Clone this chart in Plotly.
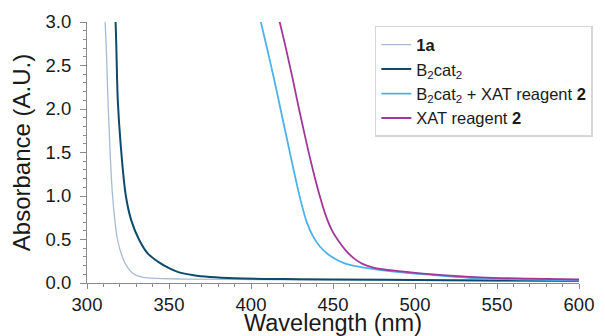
import plotly.graph_objects as go

# ---- data ----
wl_1a = [308, 311, 313, 315.6, 318.6, 321, 324, 328, 333, 340, 360, 400, 450, 500, 550, 600]
abs_1a = [3.6, 3.0, 2.0, 1.0, 0.5, 0.33, 0.2, 0.11, 0.07, 0.055, 0.045, 0.04, 0.035, 0.03, 0.025, 0.02]

wl_b2 = [316, 317.4, 318.8, 320.5, 323.7, 327, 331.7, 337, 343.7, 350, 355.7, 365, 375, 390, 420, 450, 500, 550, 600]
abs_b2 = [3.4, 3.0, 2.09, 1.6, 1.0, 0.72, 0.5, 0.34, 0.24, 0.17, 0.125, 0.09, 0.07, 0.055, 0.045, 0.04, 0.035, 0.03, 0.025]

wl_mix = [403, 406, 410, 414, 418, 422, 426, 430, 434, 438, 442, 447, 452, 458, 465, 471,
          487, 511, 539, 570, 600]
abs_mix = [3.25, 3.0, 2.68, 2.35, 2.0, 1.65, 1.3, 0.97, 0.7, 0.53, 0.42, 0.33, 0.27, 0.22, 0.19, 0.17,
           0.13, 0.092, 0.054, 0.04, 0.03]

wl_xat = [414.5, 417.5, 421.5, 425.5, 429.5, 433.5, 437.5, 441.5, 445.5, 449.5, 453.5, 458, 463, 468,
          474, 480, 490, 511, 540, 570, 600]
abs_xat = [3.25, 3.0, 2.68, 2.34, 1.98, 1.64, 1.32, 1.03, 0.78, 0.60, 0.48, 0.37, 0.28, 0.22,
           0.18, 0.158, 0.137, 0.1, 0.065, 0.05, 0.04]

series_names = ["<b>1a</b>",
                "B<sub>2</sub>cat<sub>2</sub>",
                "B<sub>2</sub>cat<sub>2</sub> + XAT reagent <b>2</b>",
                "XAT reagent <b>2</b>"]
series_colors = ["#a6bcd4", "#0e4a6c", "#4db2ea", "#a0389a"]
series_widths = [1.3, 2.0, 1.8, 1.8]

x_ticks = [300, 350, 400, 450, 500, 550, 600]
y_ticks = [0.0, 0.5, 1.0, 1.5, 2.0, 2.5, 3.0]

FONT = "Liberation Sans, Arial, Helvetica, sans-serif"

fig = go.Figure()
for wl, ab, name, col, w in zip([wl_1a, wl_b2, wl_mix, wl_xat],
                                [abs_1a, abs_b2, abs_mix, abs_xat],
                                series_names, series_colors, series_widths):
    fig.add_trace(go.Scatter(x=wl, y=ab, mode="lines", name=name,
                             line=dict(color=col, width=w, shape="spline", smoothing=1.0)))

axis_common = dict(showline=True, linecolor="#8a8a8a", linewidth=1.2, ticks="outside",
                   tickcolor="#8a8a8a", tickwidth=1, showgrid=False, zeroline=False,
                   tickfont=dict(size=18.5, color="#1a1a1a", family=FONT),
                   mirror=False, automargin=False)

fig.update_xaxes(range=[300, 600], tickvals=x_ticks, ticktext=[str(v) for v in x_ticks],
                 ticklen=5,
                 title=dict(text="Wavelength (nm)", font=dict(size=23.5, color="#1a1a1a", family=FONT),
                            standoff=2),
                 minor=dict(ticks="outside", dtick=10, ticklen=3, tickcolor="#8a8a8a"),
                 **axis_common)
fig.update_yaxes(range=[0, 3.0], tickvals=y_ticks, ticktext=[f"{v:.1f}" for v in y_ticks],
                 ticklen=6,
                 title=dict(text="Absorbance (A.U.)", font=dict(size=24, color="#1a1a1a", family=FONT),
                            standoff=8),
                 minor=dict(ticks="outside", dtick=0.1, ticklen=3, tickcolor="#8a8a8a"),
                 ticklabelstandoff=5,
                 **axis_common)

fig.update_layout(
    width=597, height=328,
    margin=dict(l=79, r=17, t=14, b=53),
    paper_bgcolor="white", plot_bgcolor="white",
    font=dict(family=FONT, color="#1a1a1a"),
    showlegend=True,
    legend=dict(x=0.585, y=0.985, xanchor="left", yanchor="top",
                bgcolor="white", bordercolor="#d6d6d6", borderwidth=1.5,
                font=dict(size=16.5, family=FONT, color="#1a1a1a"),
                itemwidth=30, tracegroupgap=3),
)

fig.write_html("out.html")
